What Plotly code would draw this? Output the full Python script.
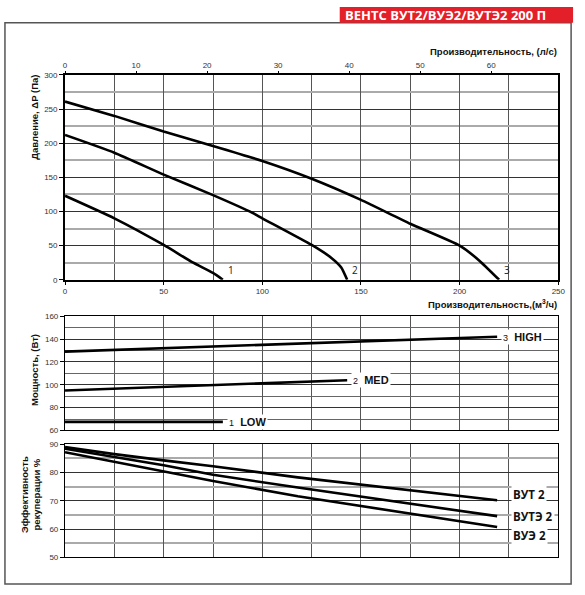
import plotly.graph_objects as go

W, H = 585, 595

# ---- Data: pressure curves (m3/h vs Pa)
q1 = [0, 25, 50, 65, 75, 80]
p1 = [123, 90, 51, 25, 10, 0]
q2 = [0, 25, 50, 75, 95, 100, 125, 135, 140, 143]
p2 = [212, 186, 154, 124, 98, 90, 51, 32, 18, 0]
q3 = [0, 25, 50, 75, 100, 125, 150, 175, 200, 210, 220]
p3 = [261, 240, 217, 196, 174, 148, 117, 82, 50, 28, 0]

# ---- Data: power (W)
q_high = [0, 219]
w_high = [129, 142]
q_med = [0, 143]
w_med = [95, 104]
q_low = [0, 80]
w_low = [67.5, 67.5]

# ---- Data: efficiency (%)
q_eff = [0, 25, 50, 75, 118, 219]
eff_vut = [89, 86.5, 84.3, 82.2, 78.3, 70.2]
eff_vute = [88.4, 85.5, 82.6, 79.2, 74.7, 64.6]
eff_vue = [87.2, 83.8, 80.3, 77.0, 71.6, 60.8]

curve_labels = ["1", "2", "3"]
speed_labels = ["LOW", "MED", "HIGH"]
eff_labels = ["ВУТ 2", "ВУТЭ 2", "ВУЭ 2"]

x_ticks = [0, 50, 100, 150, 200, 250]
ls_ticks = [0, 10, 20, 30, 40, 50, 60]


def px(x):
    return x / W


def py(y):
    return 1 - y / H


fig = go.Figure()
LINE = dict(color="black", width=2.6)

for q, p in [(q1, p1), (q2, p2), (q3, p3)]:
    fig.add_trace(go.Scatter(x=q, y=p, mode="lines", line=dict(LINE, shape="spline", smoothing=0.5),
                             xaxis="x", yaxis="y", hoverinfo="skip", showlegend=False))
# invisible trace for l/s axis
fig.add_trace(go.Scatter(x=[v / 3.6 for v in q3], y=p3, mode="lines", line=dict(width=0, color="rgba(0,0,0,0)"),
                         xaxis="x4", yaxis="y", hoverinfo="skip", showlegend=False))

for q, w in [(q_high, w_high), (q_med, w_med), (q_low, w_low)]:
    fig.add_trace(go.Scatter(x=q, y=w, mode="lines", line=LINE, xaxis="x2", yaxis="y2",
                             hoverinfo="skip", showlegend=False))

for e in [eff_vut, eff_vute, eff_vue]:
    fig.add_trace(go.Scatter(x=q_eff, y=e, mode="lines", line=LINE, xaxis="x3", yaxis="y3",
                             hoverinfo="skip", showlegend=False))

TF = dict(family="Liberation Sans, Arial", size=8, color="#333")
XD = [px(64), px(565)]
GRIDV = "#555"

common_x = dict(range=[0, 250], showline=True, mirror=True, linecolor="black", linewidth=1.2,
                showgrid=True, gridcolor=GRIDV, gridwidth=1, zeroline=False,
                minor=dict(dtick=25, showgrid=True, gridcolor=GRIDV, gridwidth=1))

fig.update_layout(
    width=W, height=H, margin=dict(l=0, r=0, t=0, b=0),
    paper_bgcolor="white", plot_bgcolor="white",
    xaxis=dict(common_x, domain=XD, anchor="y", tickvals=x_ticks, ticks="outside", ticklen=3,
               tickcolor="black", tickfont=TF, linewidth=1.8),
    xaxis4=dict(range=[0, 250 / 3.6], overlaying="x", anchor="y", side="top", tickvals=ls_ticks,
                ticks="outside", ticklen=3, tickcolor="black", tickfont=TF, showgrid=False,
                zeroline=False, showline=False),
    yaxis=dict(domain=[py(280), py(72)], anchor="x", range=[0, 300], dtick=50, ticks="outside", ticklen=4,
               tickcolor="black", tickfont=TF, showline=True, mirror=True, linecolor="black", linewidth=1.8,
               showgrid=True, gridcolor="#333", zeroline=False,
               minor=dict(dtick=25, showgrid=True, gridcolor="#aaa", gridwidth=1.5)),
    xaxis2=dict(common_x, domain=XD, anchor="y2", showticklabels=False, dtick=50),
    yaxis2=dict(domain=[py(433), py(317)], anchor="x2", range=[60, 160], dtick=20, ticks="outside", ticklen=4,
                tickcolor="black", tickfont=TF, showline=True, mirror=True, linecolor="black", linewidth=1.2,
                showgrid=True, gridcolor="#333", zeroline=False,
                minor=dict(dtick=10, showgrid=True, gridcolor="#666", gridwidth=1)),
    xaxis3=dict(common_x, domain=XD, anchor="y3", showticklabels=False, dtick=50),
    yaxis3=dict(domain=[py(562), py(447)], anchor="x3", range=[50, 90], dtick=10, ticks="outside", ticklen=4,
                tickcolor="black", tickfont=TF, showline=True, mirror=True, linecolor="black", linewidth=1.2,
                showgrid=True, gridcolor="#333", zeroline=False,
                minor=dict(dtick=5, showgrid=True, gridcolor="#aaa", gridwidth=1.5)),
)

shapes = [
    dict(type="rect", xref="paper", yref="paper", x0=px(3), x1=px(578), y0=py(589), y1=py(19),
         line=dict(color="#555", width=1.5), fillcolor="rgba(0,0,0,0)", layer="below"),
    dict(type="rect", xref="paper", yref="paper", x0=px(343), x1=px(580), y0=py(19), y1=py(3),
         line=dict(width=0), fillcolor="#e3202a"),
]
fig.update_layout(shapes=shapes)

TITLE = dict(family="Liberation Sans, Arial", size=9.5, color="#111")
ann = []
ann.append(dict(text="<b>ВЕНТС ВУТ2/ВУЭ2/ВУТЭ2 200 П</b>", xref="paper", yref="paper", x=px(346), y=py(11),
                xanchor="left", yanchor="middle", showarrow=False,
                font=dict(family="Open Sans", size=13, color="white")))
ann.append(dict(text="<b>Производительность, (л/с)</b>", xref="paper", yref="paper", x=px(566), y=py(48),
                xanchor="right", yanchor="middle", showarrow=False, font=TITLE))
ann.append(dict(text="<b>Производительность,(м<sup>3</sup>/ч)</b>", xref="paper", yref="paper", x=px(566),
                y=py(296), xanchor="right", yanchor="top", showarrow=False, font=TITLE))
ann.append(dict(text="<b>Давление, ΔP (Па)</b>", xref="paper", yref="paper", x=px(33), y=py(115),
                xanchor="center", yanchor="middle", textangle=-90, showarrow=False, font=TITLE))
ann.append(dict(text="<b>Мощность, (Вт)</b>", xref="paper", yref="paper", x=px(33), y=py(371),
                xanchor="center", yanchor="middle", textangle=-90, showarrow=False, font=TITLE))
ann.append(dict(text="<b>Эффективность<br>рекуперации %</b>", xref="paper", yref="paper", x=px(29), y=py(498),
                xanchor="center", yanchor="middle", textangle=-90, showarrow=False, font=TITLE))

# curve number labels
for lab, q in zip(curve_labels, [q1[-1], q2[-1], q3[-1]]):
    ann.append(dict(text=lab, x=q + 1.5, y=1, xref="x", yref="y", xanchor="left", yanchor="bottom",
                    showarrow=False, font=dict(family="Open Sans", size=10, color="#222")))

# speed labels
for lab, num, q, w in zip(speed_labels, curve_labels, [q_low[-1], q_med[-1], q_high[-1]],
                          [w_low[-1], w_med[-1], w_high[-1]]):
    ann.append(dict(text=f"<span style='font-size:9px'>{num}</span>  <b>{lab}</b>", x=q + 2, y=w,
                    xref="x2", yref="y2", xanchor="left", yanchor="middle", showarrow=False,
                    bgcolor="white", borderpad=1,
                    font=dict(family="Liberation Sans, Arial", size=11, color="#111")))

# efficiency labels
for lab, yv in zip(eff_labels, [72.3, 64.6, 57.7]):
    ann.append(dict(text=f"<b>{lab}</b>", x=226, y=yv, xref="x3", yref="y3", xanchor="left",
                    yanchor="middle", showarrow=False, bgcolor="white", borderpad=1,
                    font=dict(family="Open Sans", size=11.5, color="#111")))

fig.update_layout(annotations=ann)
fig.write_html("out.html")
